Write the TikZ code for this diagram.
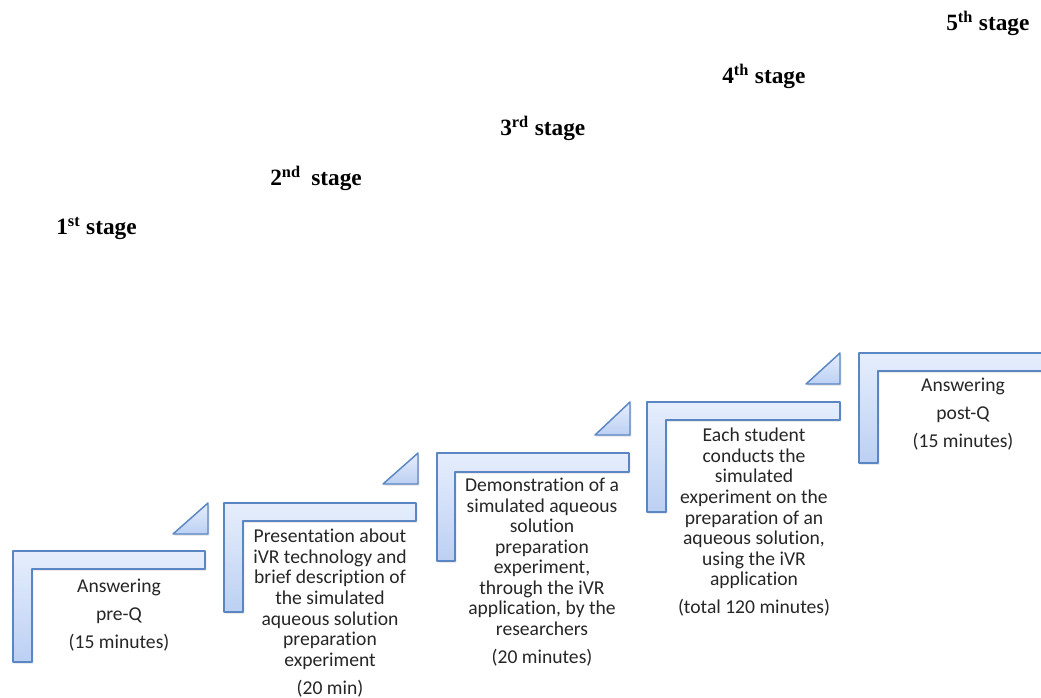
\documentclass[tikz,border=0pt]{standalone}
\usepackage{fontspec}
\usepackage{xcolor}
\usepackage{tikz}
\usetikzlibrary{shadows}
\newfontfamily\bodyfont[RawFeature={-liga;-clig;-calt;-dlig}]{Carlito}
\newfontfamily\stagefont{Liberation Serif}
\definecolor{stepline}{HTML}{5A86C4}
\definecolor{steplight}{HTML}{E6EEFC}
\definecolor{stepdark}{HTML}{BCD0F3}
\definecolor{steptextcol}{HTML}{262626}

\begin{document}
\begin{tikzpicture}[x=0.75pt, y=-0.75pt,
  stepshape/.style={draw=stepline, line width=1.1pt, line join=round,
    top color=steplight, bottom color=stepdark,
    drop shadow={opacity=0.25, shadow xshift=1pt, shadow yshift=-1.2pt}},
  steptext/.style={anchor=north, inner sep=0pt, align=center, text=steptextcol,
    font=\bodyfont\fontsize{14.7}{15.4}\selectfont},
  stagelabel/.style={anchor=base west, inner sep=0pt,
    font=\stagefont\bfseries\fontsize{17.5}{20}\selectfont}]
\useasboundingbox (0,0) rectangle (1041,698);
% ступени
\draw[stepshape] (13,551) -- (205,551) -- (205,569) -- (32,569) -- (32,662) -- (13,662) -- cycle;
\draw[stepshape] (224,503) -- (416,503) -- (416,521) -- (243,521) -- (243,612) -- (224,612) -- cycle;
\draw[stepshape] (437,453) -- (629,453) -- (629,472) -- (455,472) -- (455,561) -- (437,561) -- cycle;
\draw[stepshape] (647,402) -- (840,402) -- (840,420) -- (666,420) -- (666,512) -- (647,512) -- cycle;
\draw[stepshape] (859,353) -- (1050,353) -- (1050,371) -- (878,371) -- (878,463) -- (859,463) -- cycle;
% треугольники
\draw[stepshape] (173,534) -- (208,534) -- (208,503) -- cycle;
\draw[stepshape] (383,484) -- (418,484) -- (418,453) -- cycle;
\draw[stepshape] (595,435) -- (630,435) -- (630,402) -- cycle;
\draw[stepshape] (806,384) -- (840,384) -- (840,353) -- cycle;
% тексты ступеней
\node[steptext] (answerpre) at (119,579) {Answering\\[5.6pt]pre-Q\\[5.6pt](15 minutes)};
\node[steptext] (presentation) at (330,529) {Presentation about\\iVR technology and\\brief description of\\the simulated\\aqueous solution\\preparation\\experiment\\[5.6pt](20 min)};
\node[steptext] (demonstration) at (542,478) {Demonstration of a\\simulated aqueous\\solution\\preparation\\experiment,\\through the iVR\\application, by the\\researchers\\[5.6pt](20 minutes)};
\node[steptext] (conducts) at (754,428) {Each student\\conducts the\\simulated\\experiment on the\\preparation of an\\aqueous solution,\\using the iVR\\application\\[5.6pt](total 120 minutes)};
\node[steptext] (answerpost) at (963,378) {Answering\\[5.6pt]post-Q\\[5.6pt](15 minutes)};
% этапы
\node[stagelabel] (stage1) at (56,235) {1\textsuperscript{st} stage};
\node[stagelabel] (stage2) at (270,186) {2\textsuperscript{nd}\hspace{0.2em} stage};
\node[stagelabel] (stage3) at (500,136) {3\textsuperscript{rd} stage};
\node[stagelabel] (stage4) at (722,84) {4\textsuperscript{th} stage};
\node[stagelabel] (stage5) at (946,31) {5\textsuperscript{th} stage};
\end{tikzpicture}
\end{document}
